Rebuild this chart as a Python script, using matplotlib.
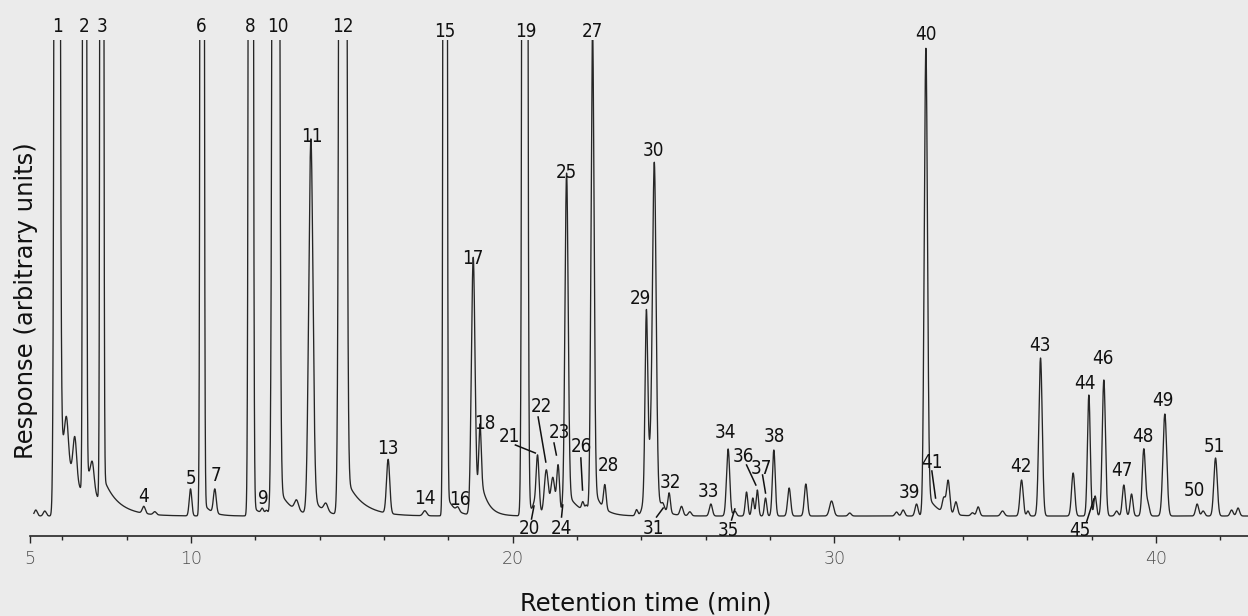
import numpy as np
from matplotlib import pyplot as plt

# peaks of the chromatogram: retention time (min), height (arbitrary units), width sigma (min)
# very tall peaks run off the top of the chart, as in the original recorder trace
peak_time = [5.18, 5.46, 5.842, 6.135, 6.393, 6.697, 6.937, 7.232, 8.537, 8.879,
             9.989, 10.350, 10.745, 11.864, 12.221, 12.352, 12.641, 13.284, 13.729, 14.195,
             14.723, 16.132, 17.272, 17.903, 18.298, 18.774, 18.982, 20.381, 20.661, 20.776,
             21.049, 21.251, 21.416, 21.547, 21.677, 22.184, 22.293, 22.485, 22.868, 23.853,
             24.158, 24.266, 24.406, 24.671, 24.866, 25.252, 25.51, 26.163, 26.70, 26.909,
             27.272, 27.468, 27.608, 27.863, 28.121, 28.597, 29.116, 29.915, 30.48, 31.935,
             32.14, 32.557, 32.846, 33.405, 33.539, 33.78, 34.296, 34.472, 35.23, 35.821,
             36.02, 36.411, 37.425, 37.913, 38.108, 38.379, 38.774, 39.0, 39.24, 39.622,
             39.75, 40.275, 41.279, 41.466, 41.851, 42.35, 42.55]
peak_height = [6, 5, 4000, 40, 42, 5000, 25, 5000, 7, 3,
               27, 5000, 24, 5000, 5, 4, 5000, 10, 365, 8,
               5000, 54, 5, 5000, 4, 245, 65, 5000, 6, 58,
               45, 38, 50, 5, 330, 8, 6, 470, 24, 6,
               165, 60, 312, 6, 20, 9, 4, 12, 67, 5,
               24, 18, 26, 18, 66, 28, 32, 15, 3, 4,
               6, 12, 455, 14, 33, 13, 3, 9, 5, 36,
               5, 158, 43, 121, 20, 136, 5, 31, 22, 67,
               12, 102, 12, 5, 58, 6, 8]
peak_width = [0.047, 0.047, 0.050, 0.056, 0.056, 0.031, 0.056, 0.031, 0.047, 0.047,
              0.040, 0.034, 0.044, 0.040, 0.040, 0.040, 0.059, 0.062, 0.065, 0.062,
              0.062, 0.050, 0.056, 0.034, 0.047, 0.056, 0.040, 0.047, 0.037, 0.047,
              0.062, 0.062, 0.044, 0.031, 0.050, 0.037, 0.037, 0.047, 0.040, 0.037,
              0.040, 0.124, 0.056, 0.047, 0.040, 0.047, 0.047, 0.047, 0.050, 0.047,
              0.040, 0.037, 0.037, 0.037, 0.044, 0.047, 0.047, 0.062, 0.047, 0.047,
              0.047, 0.047, 0.050, 0.047, 0.050, 0.050, 0.047, 0.047, 0.056, 0.050,
              0.037, 0.053, 0.050, 0.044, 0.040, 0.050, 0.047, 0.047, 0.044, 0.050,
              0.047, 0.059, 0.047, 0.047, 0.053, 0.047, 0.047]

# tailing after the large peaks: start (min), amplitude, decay (min)
tail_time = [5.842, 6.697, 7.232, 10.350, 11.864, 12.641, 13.729, 14.723,
             17.903, 18.774, 18.982, 20.381, 21.677, 22.485, 24.406, 32.846]
tail_height = [100, 40, 30, 15, 12, 35, 20, 45, 25, 25, 30, 15, 25, 30, 20, 25]
tail_decay = [0.56, 0.25, 0.47, 0.25, 0.25, 0.37, 0.31, 0.50,
              0.25, 0.25, 0.22, 0.25, 0.37, 0.25, 0.25, 0.31]

# peak numbers and the centre of each number
label_text = [str(i) for i in range(1, 52)]
label_time = [5.842, 6.682, 7.241, 8.537, 9.998, 10.331, 10.797, 11.854, 12.246, 12.694,
              13.751, 14.733, 16.132, 17.272, 17.894, 18.36, 18.774, 19.138, 20.412, 20.515,
              19.915, 20.9, 21.469, 21.522, 21.677, 22.143, 22.473, 22.97, 23.977, 24.369,
              24.369, 24.91, 26.079, 26.629, 26.70, 27.167, 27.739, 28.152, 32.348, 32.846,
              33.033, 35.8, 36.39, 37.789, 37.632, 38.357, 38.93, 39.582, 40.222, 41.207,
              41.808]
label_resp = [491, 491, 491, 22, 40, 491, 42.7, 491, 20, 491,
              381.5, 491, 69.3, 19.3, 486.5, 18.7, 259.3, 94.3, 486.5, -10.7,
              81, 111, 86, -10.7, 345.3, 71, 486.5, 52.7, 219.3, 367.7,
              -10.7, 36, 26.7, 86, -12.3, 61, 49.3, 81, 26, 483.5,
              55.3, 51.7, 172.7, 134.3, -12.3, 160, 47.7, 81, 117.7, 27.7,
              72]

# leader lines from a number to its peak: (t0, r0, t1, r1)
leaders = [(20.589, -3, 20.666, 10), (20.088, 71, 20.706, 63), (20.794, 99, 21.033, 54),
           (21.288, 73, 21.362, 61), (21.522, -1, 21.56, 11), (22.122, 58, 22.175, 26),
           (24.475, -1, 24.682, 8), (26.806, -4, 26.909, 7), (27.273, 51, 27.562, 31),
           (27.77, 41, 27.863, 23), (33.033, 45, 33.148, 18), (37.841, -6, 38.068, 17)]

major_ticks = [5, 10, 20, 30, 40]
minor_ticks = [6, 8, 12, 14, 16, 18, 22, 24, 26, 28, 32, 34, 36, 38, 42]

paper = '#ebebeb'
ink = '#262626'

# build the trace from the peak table
t = np.linspace(5.12, 42.86, 24000)
resp = np.zeros_like(t)
for t0, h, w in zip(peak_time, peak_height, peak_width):
    resp += h * np.exp(-0.5 * ((t - t0) / w) ** 2)
for t0, a, tau in zip(tail_time, tail_height, tail_decay):
    dt = t - t0
    resp += a * np.exp(-np.clip(dt, 0, None) / tau) / (1 + np.exp(-dt / 0.02))

fig = plt.figure(figsize=(12.48, 6.16), dpi=100, facecolor=paper)
ax = fig.add_axes([30 / 1248, 80 / 616, 1218 / 1248, 496 / 616])
ax.set_facecolor(paper)

ax.plot(t, resp, color=ink, lw=0.95)

ax.set_xlim(5, 42.86)
ax.set_ylim(-20, 476)

# narrow numbers like the condensed type of the original
for s, x, y in zip(label_text, label_time, label_resp):
    ax.text(x, y, s, ha='center', va='center_baseline', fontsize=13.5, color='#111111',
            family='DejaVu Sans', fontstretch='condensed')

for t0, r0, t1, r1 in leaders:
    ax.plot([t0, t1], [r0, r1], color='#111111', lw=1.1)

# only the time axis is drawn
for side in ['left', 'right', 'top']:
    ax.spines[side].set_visible(False)
ax.spines['bottom'].set_color(ink)
ax.spines['bottom'].set_linewidth(1.2)
ax.set_yticks([])
ax.set_xticks(major_ticks)
ax.set_xticks(minor_ticks, minor=True)
ax.tick_params(axis='x', which='major', length=5, width=1, color=ink, direction='out',
               pad=5, labelsize=12.5, labelcolor='#4d4d4d')
ax.tick_params(axis='x', which='minor', length=3, width=1, color=ink, direction='out')
for lab in ax.get_xticklabels():
    lab.set_fontweight('light')

ax.set_xlabel('Retention time (min)', fontsize=17.5, color='#111111', va='center')
ax.xaxis.set_label_coords(616 / 1218, -67 / 496)
ax.set_ylabel('Response (arbitrary units)', fontsize=17.5, color='#111111', va='center')
ax.yaxis.set_label_coords(-4 / 1218, 235 / 496)

plt.savefig('out.png', dpi=100, facecolor=paper)
